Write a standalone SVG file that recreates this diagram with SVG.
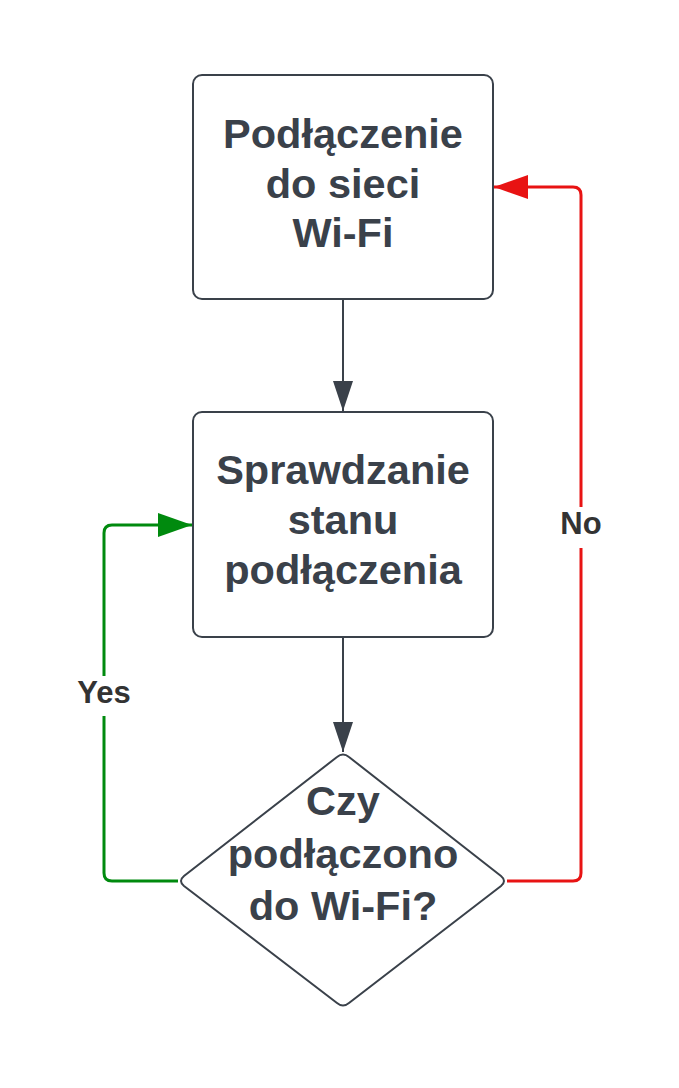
<svg xmlns="http://www.w3.org/2000/svg" width="679" height="1088" viewBox="0 0 679 1088">
<style>
.node{fill:#ffffff;stroke:#3a414a;stroke-width:2}
.t{font-family:"Liberation Sans",Arial,sans-serif;font-weight:bold;font-size:41.5px;fill:#3a414a;text-anchor:middle}
.lbl{font-family:"Liberation Sans",Arial,sans-serif;font-weight:bold;font-size:31px;fill:#333333;text-anchor:middle}
.dark{fill:none;stroke:#3a414a;stroke-width:2}
.green{fill:none;stroke:#008a0e;stroke-width:3}
.red{fill:none;stroke:#e81313;stroke-width:3}
</style>
<defs>
<marker id="ad" markerUnits="userSpaceOnUse" markerWidth="32" markerHeight="22" refX="30" refY="10" orient="auto" viewBox="0 0 32 22">
<path d="M0,0 L30,10 L0,20 Z" fill="#3a414a"/>
</marker>
<marker id="ag" markerUnits="userSpaceOnUse" markerWidth="36" markerHeight="26" refX="34" refY="12" orient="auto" viewBox="0 0 36 26">
<path d="M0,0 L34,12 L0,24 Z" fill="#008a0e"/>
</marker>
<marker id="ar" markerUnits="userSpaceOnUse" markerWidth="36" markerHeight="26" refX="34" refY="12" orient="auto" viewBox="0 0 36 26">
<path d="M0,0 L34,12 L0,24 Z" fill="#e81313"/>
</marker>
</defs>
<rect width="679" height="1088" fill="#ffffff"/>
<g id="connectors">
<path class="dark" d="M343,299 L343,411" marker-end="url(#ad)"/>
<path class="dark" d="M343,637 L343,752" marker-end="url(#ad)"/>
<path class="green" d="M178,881 L112,881 Q104,881 104,873 L104,533 Q104,525 112,525 L192,525" marker-end="url(#ag)"/>
<path class="red" d="M507,881 L573,881 Q581,881 581,873 L581,195 Q581,187 573,187 L494,187" marker-end="url(#ar)"/>
<rect x="70" y="676" width="68" height="40" fill="#ffffff"/>
<text class="lbl" x="104" y="703">Yes</text>
<rect x="555" y="507" width="54" height="41" fill="#ffffff"/>
<text class="lbl" x="581" y="534">No</text>
</g>
<g id="node1">
<rect class="node" x="193" y="75" width="300" height="224" rx="9"/>
<text class="t" x="343" y="148">Podłączenie</text>
<text class="t" x="343" y="197.5">do sieci</text>
<text class="t" x="343" y="247">Wi-Fi</text>
</g>
<g id="node2">
<rect class="node" x="193" y="412" width="300" height="225" rx="9"/>
<text class="t" x="343" y="484">Sprawdzanie</text>
<text class="t" x="343" y="534">stanu</text>
<text class="t" x="343" y="584">podłączenia</text>
</g>
<g id="node3">
<path class="node" d="M337,757 Q343,752 349,757 L501,876 Q507,881 501,886 L349,1003 Q343,1008 337,1003 L184,886 Q178,881 184,876 Z"/>
<text class="t" x="343" y="815">Czy</text>
<text class="t" x="343" y="868">podłączono</text>
<text class="t" x="343" y="920">do Wi-Fi?</text>
</g>
</svg>
